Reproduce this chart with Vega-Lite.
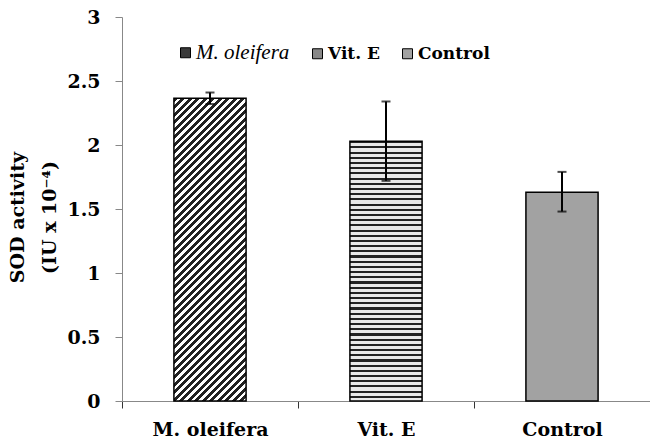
{
"$schema": "https://vega.github.io/schema/vega-lite/v6.json",
"width": 528, "height": 384,
"autosize": "none",
"padding": {"left": 122, "top": 17, "right": 0, "bottom": 42},
"background": "white",
"config": {"view": {"stroke": null}, "font": "DejaVu Serif"},
"data": {"values": [
 {"group": "M. oleifera", "value": 2.365, "lo": 2.32, "hi": 2.41},
 {"group": "Vit. E", "value": 2.03, "lo": 1.72, "hi": 2.34},
 {"group": "Control", "value": 1.63, "lo": 1.48, "hi": 1.79}
]},
"encoding": {
 "x": {"field": "group", "type": "nominal", "sort": null,
  "scale": {"paddingInner": 0, "paddingOuter": 0},
  "axis": {"title": null, "labelAngle": 0, "tickBand": "extent", "domainColor": "#888", "tickColor": "#333", "tickSize": 7, "labelPadding": 12, "labelFont": "DejaVu Serif", "labelFontWeight": "bold", "labelFontSize": 19, "labelColor": "black"}}
},
"layer": [
 {"mark": {"type": "bar", "width": {"band": 0.41}, "stroke": "black", "strokeWidth": 1.5},
  "encoding": {
   "y": {"field": "value", "type": "quantitative", "scale": {"domain": [0, 3]},
    "axis": {"title": ["SOD activity", "(IU x 10⁻⁴)"], "values": [0, 0.5, 1, 1.5, 2, 2.5, 3], "format": "~g", "grid": false, "domainColor": "#888", "tickColor": "#888", "tickSize": 7, "labelPadding": 15, "labelFont": "DejaVu Serif", "labelFontWeight": "bold", "labelFontSize": 19, "labelColor": "black", "titleFont": "DejaVu Serif", "titleFontWeight": "bold", "titleFontSize": 19, "titleColor": "black", "titleLineHeight": 32, "titlePadding": 7, "titleY": 200}},
   "fill": {"field": "group", "type": "nominal", "sort": null,
    "scale": {"domain": ["M. oleifera", "Vit. E", "Control"], "range": ["#3a3a3a", "#888888", "#a2a2a2"]},
    "condition": [
     {"test": "datum.group == 'M. oleifera'", "value": {"gradient": "linear", "x1": 0, "y1": 0, "x2": 0.279, "y2": 1.172, "stops": [
{"offset":0,"color":"#222"},{"offset":0.011,"color":"#222"},{"offset":0.011,"color":"#fff"},{"offset":0.02,"color":"#fff"},
{"offset":0.02,"color":"#222"},{"offset":0.031,"color":"#222"},{"offset":0.031,"color":"#fff"},{"offset":0.04,"color":"#fff"},
{"offset":0.04,"color":"#222"},{"offset":0.051,"color":"#222"},{"offset":0.051,"color":"#fff"},{"offset":0.06,"color":"#fff"},
{"offset":0.06,"color":"#222"},{"offset":0.071,"color":"#222"},{"offset":0.071,"color":"#fff"},{"offset":0.08,"color":"#fff"},
{"offset":0.08,"color":"#222"},{"offset":0.091,"color":"#222"},{"offset":0.091,"color":"#fff"},{"offset":0.1,"color":"#fff"},
{"offset":0.1,"color":"#222"},{"offset":0.111,"color":"#222"},{"offset":0.111,"color":"#fff"},{"offset":0.12,"color":"#fff"},
{"offset":0.12,"color":"#222"},{"offset":0.131,"color":"#222"},{"offset":0.131,"color":"#fff"},{"offset":0.14,"color":"#fff"},
{"offset":0.14,"color":"#222"},{"offset":0.151,"color":"#222"},{"offset":0.151,"color":"#fff"},{"offset":0.16,"color":"#fff"},
{"offset":0.16,"color":"#222"},{"offset":0.171,"color":"#222"},{"offset":0.171,"color":"#fff"},{"offset":0.18,"color":"#fff"},
{"offset":0.18,"color":"#222"},{"offset":0.191,"color":"#222"},{"offset":0.191,"color":"#fff"},{"offset":0.2,"color":"#fff"},
{"offset":0.2,"color":"#222"},{"offset":0.211,"color":"#222"},{"offset":0.211,"color":"#fff"},{"offset":0.22,"color":"#fff"},
{"offset":0.22,"color":"#222"},{"offset":0.231,"color":"#222"},{"offset":0.231,"color":"#fff"},{"offset":0.24,"color":"#fff"},
{"offset":0.24,"color":"#222"},{"offset":0.251,"color":"#222"},{"offset":0.251,"color":"#fff"},{"offset":0.26,"color":"#fff"},
{"offset":0.26,"color":"#222"},{"offset":0.271,"color":"#222"},{"offset":0.271,"color":"#fff"},{"offset":0.28,"color":"#fff"},
{"offset":0.28,"color":"#222"},{"offset":0.291,"color":"#222"},{"offset":0.291,"color":"#fff"},{"offset":0.3,"color":"#fff"},
{"offset":0.3,"color":"#222"},{"offset":0.311,"color":"#222"},{"offset":0.311,"color":"#fff"},{"offset":0.32,"color":"#fff"},
{"offset":0.32,"color":"#222"},{"offset":0.331,"color":"#222"},{"offset":0.331,"color":"#fff"},{"offset":0.34,"color":"#fff"},
{"offset":0.34,"color":"#222"},{"offset":0.351,"color":"#222"},{"offset":0.351,"color":"#fff"},{"offset":0.36,"color":"#fff"},
{"offset":0.36,"color":"#222"},{"offset":0.371,"color":"#222"},{"offset":0.371,"color":"#fff"},{"offset":0.38,"color":"#fff"},
{"offset":0.38,"color":"#222"},{"offset":0.391,"color":"#222"},{"offset":0.391,"color":"#fff"},{"offset":0.4,"color":"#fff"},
{"offset":0.4,"color":"#222"},{"offset":0.411,"color":"#222"},{"offset":0.411,"color":"#fff"},{"offset":0.42,"color":"#fff"},
{"offset":0.42,"color":"#222"},{"offset":0.431,"color":"#222"},{"offset":0.431,"color":"#fff"},{"offset":0.44,"color":"#fff"},
{"offset":0.44,"color":"#222"},{"offset":0.451,"color":"#222"},{"offset":0.451,"color":"#fff"},{"offset":0.46,"color":"#fff"},
{"offset":0.46,"color":"#222"},{"offset":0.471,"color":"#222"},{"offset":0.471,"color":"#fff"},{"offset":0.48,"color":"#fff"},
{"offset":0.48,"color":"#222"},{"offset":0.491,"color":"#222"},{"offset":0.491,"color":"#fff"},{"offset":0.5,"color":"#fff"},
{"offset":0.5,"color":"#222"},{"offset":0.511,"color":"#222"},{"offset":0.511,"color":"#fff"},{"offset":0.52,"color":"#fff"},
{"offset":0.52,"color":"#222"},{"offset":0.531,"color":"#222"},{"offset":0.531,"color":"#fff"},{"offset":0.54,"color":"#fff"},
{"offset":0.54,"color":"#222"},{"offset":0.551,"color":"#222"},{"offset":0.551,"color":"#fff"},{"offset":0.56,"color":"#fff"},
{"offset":0.56,"color":"#222"},{"offset":0.571,"color":"#222"},{"offset":0.571,"color":"#fff"},{"offset":0.58,"color":"#fff"},
{"offset":0.58,"color":"#222"},{"offset":0.591,"color":"#222"},{"offset":0.591,"color":"#fff"},{"offset":0.6,"color":"#fff"},
{"offset":0.6,"color":"#222"},{"offset":0.611,"color":"#222"},{"offset":0.611,"color":"#fff"},{"offset":0.62,"color":"#fff"},
{"offset":0.62,"color":"#222"},{"offset":0.631,"color":"#222"},{"offset":0.631,"color":"#fff"},{"offset":0.64,"color":"#fff"},
{"offset":0.64,"color":"#222"},{"offset":0.651,"color":"#222"},{"offset":0.651,"color":"#fff"},{"offset":0.66,"color":"#fff"},
{"offset":0.66,"color":"#222"},{"offset":0.671,"color":"#222"},{"offset":0.671,"color":"#fff"},{"offset":0.68,"color":"#fff"},
{"offset":0.68,"color":"#222"},{"offset":0.691,"color":"#222"},{"offset":0.691,"color":"#fff"},{"offset":0.7,"color":"#fff"},
{"offset":0.7,"color":"#222"},{"offset":0.711,"color":"#222"},{"offset":0.711,"color":"#fff"},{"offset":0.72,"color":"#fff"},
{"offset":0.72,"color":"#222"},{"offset":0.731,"color":"#222"},{"offset":0.731,"color":"#fff"},{"offset":0.74,"color":"#fff"},
{"offset":0.74,"color":"#222"},{"offset":0.751,"color":"#222"},{"offset":0.751,"color":"#fff"},{"offset":0.76,"color":"#fff"},
{"offset":0.76,"color":"#222"},{"offset":0.771,"color":"#222"},{"offset":0.771,"color":"#fff"},{"offset":0.78,"color":"#fff"},
{"offset":0.78,"color":"#222"},{"offset":0.791,"color":"#222"},{"offset":0.791,"color":"#fff"},{"offset":0.8,"color":"#fff"},
{"offset":0.8,"color":"#222"},{"offset":0.811,"color":"#222"},{"offset":0.811,"color":"#fff"},{"offset":0.82,"color":"#fff"},
{"offset":0.82,"color":"#222"},{"offset":0.831,"color":"#222"},{"offset":0.831,"color":"#fff"},{"offset":0.84,"color":"#fff"},
{"offset":0.84,"color":"#222"},{"offset":0.851,"color":"#222"},{"offset":0.851,"color":"#fff"},{"offset":0.86,"color":"#fff"},
{"offset":0.86,"color":"#222"},{"offset":0.871,"color":"#222"},{"offset":0.871,"color":"#fff"},{"offset":0.88,"color":"#fff"},
{"offset":0.88,"color":"#222"},{"offset":0.891,"color":"#222"},{"offset":0.891,"color":"#fff"},{"offset":0.9,"color":"#fff"},
{"offset":0.9,"color":"#222"},{"offset":0.911,"color":"#222"},{"offset":0.911,"color":"#fff"},{"offset":0.92,"color":"#fff"},
{"offset":0.92,"color":"#222"},{"offset":0.931,"color":"#222"},{"offset":0.931,"color":"#fff"},{"offset":0.94,"color":"#fff"},
{"offset":0.94,"color":"#222"},{"offset":0.951,"color":"#222"},{"offset":0.951,"color":"#fff"},{"offset":0.96,"color":"#fff"},
{"offset":0.96,"color":"#222"},{"offset":0.971,"color":"#222"},{"offset":0.971,"color":"#fff"},{"offset":0.98,"color":"#fff"},
{"offset":0.98,"color":"#222"},{"offset":0.991,"color":"#222"},{"offset":0.991,"color":"#fff"},{"offset":1,"color":"#fff"}
     ]}},
     {"test": "datum.group == 'Vit. E'", "value": {"gradient": "linear", "x1": 0, "y1": 0, "x2": 0, "y2": 1, "stops": [
{"offset":0,"color":"#222"},{"offset":0.008,"color":"#222"},{"offset":0.008,"color":"#e8e8e8"},{"offset":0.02,"color":"#e8e8e8"},
{"offset":0.02,"color":"#222"},{"offset":0.028,"color":"#222"},{"offset":0.028,"color":"#e8e8e8"},{"offset":0.04,"color":"#e8e8e8"},
{"offset":0.04,"color":"#222"},{"offset":0.048,"color":"#222"},{"offset":0.048,"color":"#e8e8e8"},{"offset":0.06,"color":"#e8e8e8"},
{"offset":0.06,"color":"#222"},{"offset":0.068,"color":"#222"},{"offset":0.068,"color":"#e8e8e8"},{"offset":0.08,"color":"#e8e8e8"},
{"offset":0.08,"color":"#222"},{"offset":0.088,"color":"#222"},{"offset":0.088,"color":"#e8e8e8"},{"offset":0.1,"color":"#e8e8e8"},
{"offset":0.1,"color":"#222"},{"offset":0.108,"color":"#222"},{"offset":0.108,"color":"#e8e8e8"},{"offset":0.12,"color":"#e8e8e8"},
{"offset":0.12,"color":"#222"},{"offset":0.128,"color":"#222"},{"offset":0.128,"color":"#e8e8e8"},{"offset":0.14,"color":"#e8e8e8"},
{"offset":0.14,"color":"#222"},{"offset":0.148,"color":"#222"},{"offset":0.148,"color":"#e8e8e8"},{"offset":0.16,"color":"#e8e8e8"},
{"offset":0.16,"color":"#222"},{"offset":0.168,"color":"#222"},{"offset":0.168,"color":"#e8e8e8"},{"offset":0.18,"color":"#e8e8e8"},
{"offset":0.18,"color":"#222"},{"offset":0.188,"color":"#222"},{"offset":0.188,"color":"#e8e8e8"},{"offset":0.2,"color":"#e8e8e8"},
{"offset":0.2,"color":"#222"},{"offset":0.208,"color":"#222"},{"offset":0.208,"color":"#e8e8e8"},{"offset":0.22,"color":"#e8e8e8"},
{"offset":0.22,"color":"#222"},{"offset":0.228,"color":"#222"},{"offset":0.228,"color":"#e8e8e8"},{"offset":0.24,"color":"#e8e8e8"},
{"offset":0.24,"color":"#222"},{"offset":0.248,"color":"#222"},{"offset":0.248,"color":"#e8e8e8"},{"offset":0.26,"color":"#e8e8e8"},
{"offset":0.26,"color":"#222"},{"offset":0.268,"color":"#222"},{"offset":0.268,"color":"#e8e8e8"},{"offset":0.28,"color":"#e8e8e8"},
{"offset":0.28,"color":"#222"},{"offset":0.288,"color":"#222"},{"offset":0.288,"color":"#e8e8e8"},{"offset":0.3,"color":"#e8e8e8"},
{"offset":0.3,"color":"#222"},{"offset":0.308,"color":"#222"},{"offset":0.308,"color":"#e8e8e8"},{"offset":0.32,"color":"#e8e8e8"},
{"offset":0.32,"color":"#222"},{"offset":0.328,"color":"#222"},{"offset":0.328,"color":"#e8e8e8"},{"offset":0.34,"color":"#e8e8e8"},
{"offset":0.34,"color":"#222"},{"offset":0.348,"color":"#222"},{"offset":0.348,"color":"#e8e8e8"},{"offset":0.36,"color":"#e8e8e8"},
{"offset":0.36,"color":"#222"},{"offset":0.368,"color":"#222"},{"offset":0.368,"color":"#e8e8e8"},{"offset":0.38,"color":"#e8e8e8"},
{"offset":0.38,"color":"#222"},{"offset":0.388,"color":"#222"},{"offset":0.388,"color":"#e8e8e8"},{"offset":0.4,"color":"#e8e8e8"},
{"offset":0.4,"color":"#222"},{"offset":0.408,"color":"#222"},{"offset":0.408,"color":"#e8e8e8"},{"offset":0.42,"color":"#e8e8e8"},
{"offset":0.42,"color":"#222"},{"offset":0.428,"color":"#222"},{"offset":0.428,"color":"#e8e8e8"},{"offset":0.44,"color":"#e8e8e8"},
{"offset":0.44,"color":"#222"},{"offset":0.448,"color":"#222"},{"offset":0.448,"color":"#e8e8e8"},{"offset":0.46,"color":"#e8e8e8"},
{"offset":0.46,"color":"#222"},{"offset":0.468,"color":"#222"},{"offset":0.468,"color":"#e8e8e8"},{"offset":0.48,"color":"#e8e8e8"},
{"offset":0.48,"color":"#222"},{"offset":0.488,"color":"#222"},{"offset":0.488,"color":"#e8e8e8"},{"offset":0.5,"color":"#e8e8e8"},
{"offset":0.5,"color":"#222"},{"offset":0.508,"color":"#222"},{"offset":0.508,"color":"#e8e8e8"},{"offset":0.52,"color":"#e8e8e8"},
{"offset":0.52,"color":"#222"},{"offset":0.528,"color":"#222"},{"offset":0.528,"color":"#e8e8e8"},{"offset":0.54,"color":"#e8e8e8"},
{"offset":0.54,"color":"#222"},{"offset":0.548,"color":"#222"},{"offset":0.548,"color":"#e8e8e8"},{"offset":0.56,"color":"#e8e8e8"},
{"offset":0.56,"color":"#222"},{"offset":0.568,"color":"#222"},{"offset":0.568,"color":"#e8e8e8"},{"offset":0.58,"color":"#e8e8e8"},
{"offset":0.58,"color":"#222"},{"offset":0.588,"color":"#222"},{"offset":0.588,"color":"#e8e8e8"},{"offset":0.6,"color":"#e8e8e8"},
{"offset":0.6,"color":"#222"},{"offset":0.608,"color":"#222"},{"offset":0.608,"color":"#e8e8e8"},{"offset":0.62,"color":"#e8e8e8"},
{"offset":0.62,"color":"#222"},{"offset":0.628,"color":"#222"},{"offset":0.628,"color":"#e8e8e8"},{"offset":0.64,"color":"#e8e8e8"},
{"offset":0.64,"color":"#222"},{"offset":0.648,"color":"#222"},{"offset":0.648,"color":"#e8e8e8"},{"offset":0.66,"color":"#e8e8e8"},
{"offset":0.66,"color":"#222"},{"offset":0.668,"color":"#222"},{"offset":0.668,"color":"#e8e8e8"},{"offset":0.68,"color":"#e8e8e8"},
{"offset":0.68,"color":"#222"},{"offset":0.688,"color":"#222"},{"offset":0.688,"color":"#e8e8e8"},{"offset":0.7,"color":"#e8e8e8"},
{"offset":0.7,"color":"#222"},{"offset":0.708,"color":"#222"},{"offset":0.708,"color":"#e8e8e8"},{"offset":0.72,"color":"#e8e8e8"},
{"offset":0.72,"color":"#222"},{"offset":0.728,"color":"#222"},{"offset":0.728,"color":"#e8e8e8"},{"offset":0.74,"color":"#e8e8e8"},
{"offset":0.74,"color":"#222"},{"offset":0.748,"color":"#222"},{"offset":0.748,"color":"#e8e8e8"},{"offset":0.76,"color":"#e8e8e8"},
{"offset":0.76,"color":"#222"},{"offset":0.768,"color":"#222"},{"offset":0.768,"color":"#e8e8e8"},{"offset":0.78,"color":"#e8e8e8"},
{"offset":0.78,"color":"#222"},{"offset":0.788,"color":"#222"},{"offset":0.788,"color":"#e8e8e8"},{"offset":0.8,"color":"#e8e8e8"},
{"offset":0.8,"color":"#222"},{"offset":0.808,"color":"#222"},{"offset":0.808,"color":"#e8e8e8"},{"offset":0.82,"color":"#e8e8e8"},
{"offset":0.82,"color":"#222"},{"offset":0.828,"color":"#222"},{"offset":0.828,"color":"#e8e8e8"},{"offset":0.84,"color":"#e8e8e8"},
{"offset":0.84,"color":"#222"},{"offset":0.848,"color":"#222"},{"offset":0.848,"color":"#e8e8e8"},{"offset":0.86,"color":"#e8e8e8"},
{"offset":0.86,"color":"#222"},{"offset":0.868,"color":"#222"},{"offset":0.868,"color":"#e8e8e8"},{"offset":0.88,"color":"#e8e8e8"},
{"offset":0.88,"color":"#222"},{"offset":0.888,"color":"#222"},{"offset":0.888,"color":"#e8e8e8"},{"offset":0.9,"color":"#e8e8e8"},
{"offset":0.9,"color":"#222"},{"offset":0.908,"color":"#222"},{"offset":0.908,"color":"#e8e8e8"},{"offset":0.92,"color":"#e8e8e8"},
{"offset":0.92,"color":"#222"},{"offset":0.928,"color":"#222"},{"offset":0.928,"color":"#e8e8e8"},{"offset":0.94,"color":"#e8e8e8"},
{"offset":0.94,"color":"#222"},{"offset":0.948,"color":"#222"},{"offset":0.948,"color":"#e8e8e8"},{"offset":0.96,"color":"#e8e8e8"},
{"offset":0.96,"color":"#222"},{"offset":0.968,"color":"#222"},{"offset":0.968,"color":"#e8e8e8"},{"offset":0.98,"color":"#e8e8e8"},
{"offset":0.98,"color":"#222"},{"offset":0.988,"color":"#222"},{"offset":0.988,"color":"#e8e8e8"},{"offset":1,"color":"#e8e8e8"}
     ]}}
    ],
    "legend": {"orient": "none", "legendX": 55, "legendY": 27, "direction": "horizontal", "title": null, "padding": 0,
     "symbolType": "square", "symbolSize": 100, "symbolStrokeColor": "black", "symbolStrokeWidth": 1,
     "labelColor": "black", "labelOffset": 2, "columnPadding": 19,
     "labelFont": {"expr": "datum.label == 'M. oleifera' ? 'Liberation Serif' : 'DejaVu Serif'"},
     "labelFontSize": {"expr": "datum.label == 'M. oleifera' ? 21 : 17"},
     "labelFontWeight": {"expr": "datum.label == 'M. oleifera' ? 'normal' : 'bold'"},
     "labelFontStyle": {"expr": "datum.label == 'M. oleifera' ? 'italic' : 'normal'"}}}
  }},
 {"mark": {"type": "rule", "strokeWidth": 2, "color": "black"},
  "encoding": {"y": {"field": "lo", "type": "quantitative"}, "y2": {"field": "hi"}}},
 {"mark": {"type": "tick", "thickness": 2, "size": 9, "color": "black"},
  "encoding": {"y": {"field": "hi", "type": "quantitative"}}},
 {"mark": {"type": "tick", "thickness": 2, "size": 9, "color": "black"},
  "encoding": {"y": {"field": "lo", "type": "quantitative"}}}
]
}
